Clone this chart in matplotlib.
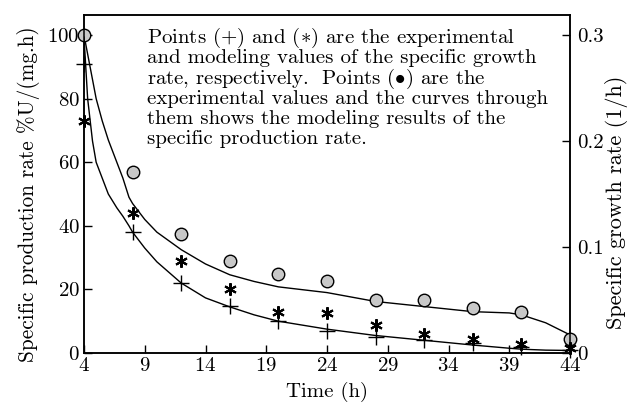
import matplotlib
matplotlib.use('Agg')
import matplotlib.pyplot as plt

plt.rcParams['font.family'] = ['cmr10', 'DejaVu Serif']
plt.rcParams['mathtext.fontset'] = 'cm'
plt.rcParams['axes.formatter.use_mathtext'] = True
plt.rcParams['axes.unicode_minus'] = False

# sampling times (h)
time = [4, 8, 12, 16, 20, 24, 28, 32, 36, 40, 44]

# specific production rate, experimental (circles), %U/(mg.h)
prod_exp = [100, 57, 37.5, 29, 25, 22.5, 16.7, 16.7, 14, 12.8, 4.4]
# specific growth rate, experimental (+) and model (*), 1/h
growth_exp = [0.273, 0.114, 0.066, 0.044, 0.030, 0.021, 0.015, 0.012, 0.009, 0.006, 0.003]
growth_mod = [0.219, 0.132, 0.087, 0.060, 0.039, 0.038, 0.026, 0.018, 0.013, 0.0085, 0.005]

# model curves
curve_t = [4, 4.3, 4.7, 5, 5.5, 6, 6.7, 7.2, 7.7, 8, 9, 10, 12, 14, 16, 18, 20, 24, 28, 32, 36, 39, 40, 42, 44]
prod_curve = [100, 94, 86, 80, 73, 67, 60, 55, 49, 47, 42, 38, 32.5, 28, 24.6, 22.5, 20.8, 19, 16.2, 14.6, 13, 12.6, 12, 9.5, 5.7]
growth_curve = [0.298, 0.24, 0.2, 0.18, 0.165, 0.15, 0.137, 0.129, 0.12, 0.114, 0.099, 0.086, 0.066, 0.052, 0.0435,
                0.036, 0.030, 0.0225, 0.0165, 0.012, 0.0075, 0.0045, 0.0036, 0.0027, 0.0024]

note_lines = ['Points (+) and $(\\ast)$ are the experimental',
              'and modeling values of the specific growth',
              'rate, respectively.  Points $(\\bullet)$ are the',
              'experimental values and the curves through',
              'them shows the modeling results of the',
              'specific production rate.']

fig = plt.figure(figsize=(6.27, 4.09), dpi=100)
ax = fig.add_axes([84 / 627, 56 / 409, 486 / 627, 338 / 409])
ax2 = ax.twinx()

ax.plot(curve_t, prod_curve, color='black', lw=1.0)
ax.plot(time, prod_exp, 'o', ms=9, mfc='#c8c8c8', mec='black', mew=1.0, clip_on=False, zorder=5)

ax2.plot(curve_t, growth_curve, color='black', lw=1.0)
ax2.plot(time, growth_exp, '+', ms=12, color='black', mew=1.0, clip_on=False)
ax2.plot(time, growth_mod, marker=(6, 2, 0), ls='none', ms=9, color='black', mew=1.5, clip_on=False)

ylim_top = 106.3
ax.set_xlim(4, 44)
ax.set_ylim(0, ylim_top)
ax2.set_ylim(0, 0.3 * ylim_top / 100)

ax.set_xticks([4, 9, 14, 19, 24, 29, 34, 39, 44])
ax.set_yticks([0, 20, 40, 60, 80, 100])
ax2.set_yticks([0, 0.1, 0.2, 0.3])
ax2.set_yticklabels(['0', '0.1', '0.2', '0.3'])

for a in (ax, ax2):
    a.tick_params(direction='in', length=6, width=1, labelsize=15, pad=3)
    for s in a.spines.values():
        s.set_linewidth(1.1)
ax2.tick_params(axis='y', pad=5)

ax.set_xlabel('Time (h)', fontsize=15, labelpad=5)
ax.set_ylabel('Specific production rate %U/(mg.h)', fontsize=15.3)
ax.yaxis.set_label_coords(-0.09, 0.47)
ax2.set_ylabel('Specific growth rate (1/h)', fontsize=16)
ax2.yaxis.set_label_coords(1.073, 0.447)

for i, line in enumerate(note_lines):
    fig.text(147 / 627, 1 - (43.3 + 20.1 * i) / 409, line, fontsize=15, va='baseline', ha='left')

fig.savefig('out.png', dpi=100)
